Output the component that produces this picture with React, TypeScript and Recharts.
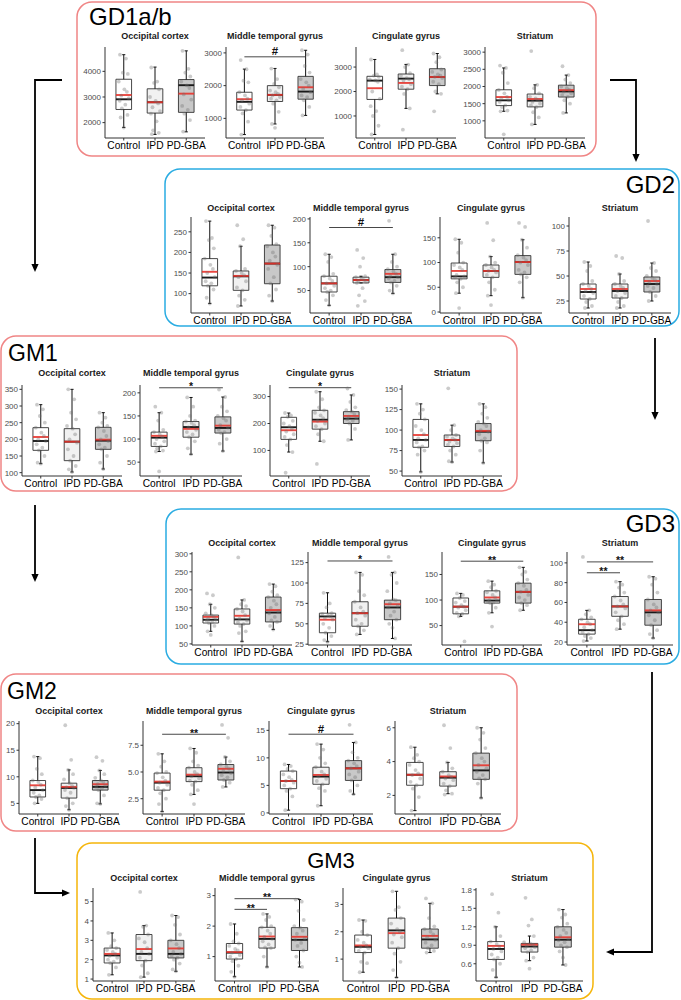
import React from 'react';
import { ComposedChart, XAxis, YAxis, Scatter, ReferenceArea, ReferenceLine } from 'recharts';

const GROUPS = ['Control', 'IPD', 'PD-GBA'];
const REGIONS = ['Occipital cortex', 'Middle temporal gyrus', 'Cingulate gyrus', 'Striatum'];
const PANEL_NAMES = ['GD1a/b', 'GD2', 'GM1', 'GD3', 'GM2', 'GM3'];

// stats per group: [whiskerLow, q1, median, q3, whiskerHigh, mean]
// ---------- GD1a/b ----------
const gd1OccStats = [[1810, 2513, 2910, 3692, 4650, 3077], [1540, 2372, 2795, 3320, 4167, 2795], [1640, 2400, 3460, 3680, 4800, 3130]];
const gd1OccPts = [
  [4650, 4500, 3950, 3900, 3600, 3300, 3200, 3050, 2950, 2850, 2700, 2550, 2300, 2200, 1810],
  [4150, 3600, 3550, 3300, 3000, 2850, 2750, 2600, 2450, 2350, 2050, 1700, 1600, 1550],
  [4800, 4100, 3950, 3800, 3600, 3450, 3350, 3100, 2900, 2650, 2500, 2350, 2100, 1650],
];
const gd1OccDomain = [1400, 4950];
const gd1OccTicks = [2000, 3000, 4000];

const gd1MtgStats = [[505, 1253, 1505, 1798, 2505, 1586], [828, 1515, 1717, 2000, 2525, 1717], [1090, 1586, 1818, 2283, 3080, 1950]];
const gd1MtgPts = [
  [2780, 2500, 2150, 2100, 1800, 1700, 1600, 1550, 1450, 1350, 1250, 1150, 900, 505],
  [2520, 2200, 2050, 1950, 1850, 1800, 1750, 1700, 1650, 1600, 1550, 1450, 1200, 830, 710],
  [3080, 2950, 2600, 2400, 2200, 2100, 2000, 1900, 1800, 1700, 1650, 1550, 1350, 1090],
];
const gd1MtgDomain = [400, 3180];
const gd1MtgTicks = [1000, 2000, 3000];
const gd1MtgSig = [[1, 3, 2880, '#']];

const gd1CingStats = [[243, 1676, 2446, 2622, 3310, 2135], [1310, 2095, 2527, 2716, 3108, 2351], [1905, 2243, 2595, 2932, 3554, 2595]];
const gd1CingPts = [
  [3310, 2700, 2650, 2600, 2500, 2450, 2400, 2000, 1700, 1400, 1200, 1000, 600, 243],
  [3690, 3100, 3000, 2750, 2650, 2550, 2500, 2450, 2300, 2200, 2100, 1900, 1310, 440],
  [3554, 3400, 3200, 2900, 2800, 2700, 2650, 2600, 2550, 2400, 2300, 2000, 1905, 1190],
];
const gd1CingDomain = [100, 3820];
const gd1CingTicks = [1000, 2000, 3000];

const gd1StrStats = [[1278, 1444, 1597, 1904, 2540, 1693], [895, 1406, 1588, 1780, 2048, 1636], [1230, 1693, 1856, 2038, 2332, 1894]];
const gd1StrPts = [
  [2610, 2540, 2400, 2100, 1900, 1800, 1700, 1650, 1600, 1550, 1450, 1400, 1300, 1278, 607],
  [3030, 2048, 1950, 1800, 1700, 1650, 1600, 1550, 1500, 1450, 1400, 1250, 1100, 895],
  [2590, 2332, 2200, 2100, 2000, 1950, 1900, 1850, 1800, 1750, 1700, 1600, 1500, 1230],
];
const gd1StrDomain = [500, 3150];
const gd1StrTicks = [1000, 1500, 2000, 2500, 3000];

// ---------- GD2 ----------
const gd2OccStats = [[76, 119, 139, 185, 276, 153], [70, 108, 142, 155, 215, 143], [82, 124, 173, 218, 266, 173]];
const gd2OccPts = [
  [276, 235, 230, 210, 185, 170, 160, 150, 140, 130, 125, 119, 110, 90, 76],
  [266, 232, 215, 160, 155, 150, 145, 140, 130, 115, 108, 95, 85, 70],
  [266, 260, 240, 220, 215, 200, 190, 180, 170, 160, 140, 125, 110, 95, 82],
];
const gd2OccDomain = [53, 286];
const gd2OccTicks = [100, 150, 200, 250];

const gd2MtgStats = [[19, 47, 65, 80, 126, 65], [66, 66, 72, 78, 80, 72], [44, 67, 78, 94, 126, 85]];
const gd2MtgPts = [
  [126, 120, 110, 85, 80, 75, 70, 65, 60, 55, 50, 47, 40, 30, 19],
  [135, 118, 100, 80, 78, 75, 72, 70, 68, 66, 55, 40, 28, 18],
  [196, 126, 110, 100, 95, 90, 85, 80, 78, 75, 70, 67, 60, 50, 44],
];
const gd2MtgDomain = [3, 204];
const gd2MtgTicks = [50, 100, 150, 200];
const gd2MtgSig = [[1, 3, 182, '#']];

const gd2CingStats = [[38, 67, 72, 99, 147, 83], [33, 70, 83, 95, 112, 83], [29, 76, 101, 114, 146, 101]];
const gd2CingPts = [
  [147, 140, 120, 100, 95, 90, 85, 75, 72, 70, 67, 60, 50, 38, 8],
  [180, 145, 112, 100, 95, 90, 85, 83, 80, 75, 70, 60, 45, 33, 14],
  [180, 172, 146, 130, 115, 110, 105, 100, 95, 85, 80, 76, 70, 60, 29],
];
const gd2CingDomain = [-2, 192];
const gd2CingTicks = [0, 50, 100, 150];

const gd2StrStats = [[18, 27, 34, 42, 64, 37], [18, 28, 35, 42, 52, 37], [25, 34, 42, 49, 63, 45]];
const gd2StrPts = [
  [64, 60, 55, 45, 42, 40, 37, 35, 33, 30, 27, 24, 20, 18],
  [70, 68, 52, 45, 42, 40, 38, 35, 33, 30, 28, 24, 20, 18],
  [105, 63, 58, 55, 50, 48, 46, 44, 42, 40, 38, 34, 30, 25],
];
const gd2StrDomain = [13, 109];
const gd2StrTicks = [25, 50, 75, 100];

// ---------- GM1 ----------
const gm1OccStats = [[127, 167, 195, 235, 304, 207], [102, 136, 193, 232, 350, 193], [111, 170, 196, 236, 280, 199]];
const gm1OccPts = [
  [304, 290, 270, 250, 235, 220, 210, 200, 195, 185, 175, 167, 150, 130, 127],
  [350, 320, 280, 260, 240, 232, 215, 200, 190, 170, 150, 136, 120, 110, 102],
  [280, 265, 250, 240, 236, 225, 210, 200, 195, 185, 175, 170, 150, 130, 111],
];
const gm1OccDomain = [90, 363];
const gm1OccTicks = [100, 150, 200, 250, 300, 350];

const gm1MtgStats = [[73, 84, 103, 115, 157, 107], [67, 104, 126, 138, 190, 122], [74, 113, 124, 148, 191, 129]];
const gm1MtgPts = [
  [170, 157, 140, 120, 115, 110, 105, 100, 95, 90, 84, 80, 75, 73, 30],
  [190, 170, 150, 140, 138, 135, 130, 125, 120, 115, 110, 104, 95, 80, 67],
  [207, 191, 170, 160, 150, 145, 140, 130, 125, 120, 115, 113, 100, 90, 74],
];
const gm1MtgDomain = [20, 217];
const gm1MtgTicks = [50, 100, 150, 200];
const gm1MtgSig = [[1, 3, 211, '*']];

const gm1CingStats = [[94, 141, 186, 223, 239, 175], [134, 179, 214, 249, 318, 207], [139, 200, 218, 244, 306, 228]];
const gm1CingPts = [
  [239, 230, 225, 210, 200, 190, 180, 170, 160, 150, 141, 120, 94, 17],
  [318, 290, 260, 249, 240, 230, 220, 210, 200, 190, 179, 160, 134, 50],
  [330, 306, 280, 260, 250, 244, 235, 225, 220, 215, 210, 200, 180, 139],
];
const gm1CingDomain = [5, 343];
const gm1CingTicks = [100, 200, 300];
const gm1CingSig = [[1, 3, 333, '*']];

const gm1StrStats = [[49, 79, 88, 113, 132, 94], [61, 80, 88, 94, 106, 88], [60, 87, 98, 108, 132, 99]];
const gm1StrPts = [
  [132, 125, 120, 113, 105, 100, 95, 90, 88, 85, 80, 79, 75, 70, 49],
  [151, 106, 100, 94, 92, 90, 88, 86, 84, 82, 80, 75, 70, 62, 61],
  [132, 128, 120, 115, 110, 108, 105, 100, 98, 95, 90, 87, 85, 75, 60],
];
const gm1StrDomain = [44, 155];
const gm1StrTicks = [50, 75, 100, 125, 150];

// ---------- GD3 ----------
const gd3OccStats = [[85, 108, 117, 130, 160, 125], [57, 105, 118, 147, 172, 128], [90, 111, 137, 180, 216, 144]];
const gd3OccPts = [
  [190, 185, 160, 150, 135, 130, 125, 120, 117, 115, 110, 108, 100, 85, 75],
  [290, 172, 160, 155, 147, 140, 130, 120, 115, 110, 105, 100, 85, 80, 57],
  [216, 210, 195, 185, 180, 170, 160, 150, 140, 135, 125, 115, 111, 100, 90],
];
const gd3OccDomain = [47, 305];
const gd3OccTicks = [50, 100, 150, 200, 250, 300];

const gd3MtgStats = [[28, 39, 59, 63, 88, 55], [37, 47, 63, 77, 113, 63], [32, 55, 70, 79, 113, 74]];
const gd3MtgPts = [
  [88, 75, 70, 63, 62, 60, 59, 57, 55, 50, 45, 39, 35, 30, 28],
  [113, 110, 90, 85, 77, 70, 65, 63, 60, 55, 50, 47, 42, 37],
  [132, 113, 110, 100, 90, 80, 79, 75, 72, 70, 65, 60, 55, 50, 45, 32],
];
const gd3MtgDomain = [24, 138];
const gd3MtgTicks = [25, 50, 75, 100, 125];
const gd3MtgSig = [[1, 3, 127, '*']];

const gd3CingStats = [[68, 73, 87, 104, 113, 87], [75, 94, 99, 118, 137, 105], [80, 94, 116, 133, 164, 116]];
const gd3CingPts = [
  [113, 110, 104, 98, 95, 90, 87, 85, 80, 75, 73, 68, 19],
  [137, 130, 125, 118, 115, 110, 105, 100, 99, 97, 95, 94, 85, 75, 48],
  [164, 155, 150, 140, 133, 128, 120, 116, 110, 105, 100, 94, 90, 80],
];
const gd3CingDomain = [12, 194];
const gd3CingTicks = [50, 100, 150];
const gd3CingSig = [[1, 3, 176, '**']];

const gd3StrStats = [[21, 28, 32, 43, 52, 38], [33, 46, 56, 66, 81, 56], [24, 37, 50, 63, 86, 52]];
const gd3StrPts = [
  [106, 52, 48, 45, 43, 40, 38, 35, 32, 30, 28, 26, 24, 21],
  [81, 78, 75, 70, 66, 62, 58, 56, 54, 50, 46, 42, 38, 33],
  [86, 84, 78, 70, 63, 58, 55, 52, 50, 47, 42, 37, 32, 28, 24],
];
const gd3StrDomain = [17, 111];
const gd3StrTicks = [20, 40, 60, 80, 100];
const gd3StrSig = [[1, 3, 101, '**'], [1, 2, 90, '**']];

// ---------- GM2 ----------
const gm2OccStats = [[5, 6.2, 7.5, 9.3, 13.8, 8.4], [3.8, 6.0, 7.9, 8.8, 11.3, 8.1], [4.9, 7.5, 8.1, 9.3, 11.2, 8.6]];
const gm2OccPts = [
  [13.8, 13.5, 11.5, 10.5, 9.3, 9.0, 8.5, 8.0, 7.5, 7.0, 6.5, 6.2, 5.8, 5.0],
  [19.7, 13.2, 11.3, 10.5, 9.5, 8.8, 8.3, 8.0, 7.9, 7.5, 7.0, 6.0, 5.0, 4.5, 3.8],
  [13.7, 13.0, 11.2, 10.5, 9.8, 9.3, 9.0, 8.6, 8.3, 8.1, 7.8, 7.5, 6.5, 5.0, 4.9],
];
const gm2OccDomain = [3, 20.5];
const gm2OccTicks = [5, 10, 15, 20];

const gm2MtgStats = [[1.3, 3.3, 4.0, 4.9, 6.7, 4.1], [2.9, 4.1, 4.6, 5.4, 7.2, 4.75], [3.6, 4.25, 4.95, 5.7, 6.4, 5.3]];
const gm2MtgPts = [
  [6.7, 6.0, 5.5, 5.0, 4.9, 4.5, 4.2, 4.0, 3.8, 3.5, 3.3, 3.0, 2.5, 2.0, 1.3],
  [7.2, 6.8, 6.0, 5.6, 5.4, 5.0, 4.8, 4.6, 4.4, 4.2, 4.1, 3.8, 3.3, 2.9, 2.0],
  [9.4, 8.2, 6.4, 6.0, 5.7, 5.5, 5.3, 5.1, 4.9, 4.7, 4.5, 4.25, 4.0, 3.6],
];
const gm2MtgDomain = [1.07, 9.77];
const gm2MtgTicks = [2.5, 5, 7.5];
const gm2MtgSig = [[1, 3, 8.53, '**']];

const gm2CingStats = [[0.5, 4.4, 5.8, 7.6, 8.8, 5.8], [1.3, 5.2, 6.6, 8.3, 12.5, 6.9], [3.4, 5.9, 8.1, 9.5, 12.8, 8.1]];
const gm2CingPts = [
  [8.8, 8.5, 8.0, 7.6, 7.0, 6.5, 6.0, 5.8, 5.5, 5.0, 4.4, 4.0, 3.0, 0.5],
  [12.5, 11.5, 10.0, 9.0, 8.3, 7.5, 7.0, 6.6, 6.2, 5.8, 5.2, 4.5, 4.0, 1.3],
  [16.0, 12.8, 11.0, 10.0, 9.5, 9.0, 8.5, 8.1, 7.5, 7.0, 6.5, 5.9, 5.0, 4.0, 3.4],
];
const gm2CingDomain = [-0.2, 16.7];
const gm2CingTicks = [0, 5, 10, 15];
const gm2CingSig = [[1, 3, 14.3, '#']];

const gm2StrStats = [[1.1, 2.6, 3.22, 3.95, 4.85, 3.22], [2.1, 2.55, 3.05, 3.4, 3.95, 3.12], [1.85, 2.95, 3.48, 4.5, 6.0, 3.78]];
const gm2StrPts = [
  [4.85, 4.4, 4.2, 4.0, 3.8, 3.5, 3.3, 3.2, 3.0, 2.8, 2.6, 2.4, 1.9, 1.1],
  [6.15, 4.8, 3.95, 3.6, 3.4, 3.2, 3.1, 3.0, 2.9, 2.7, 2.55, 2.3, 2.1, 2.05],
  [6.0, 5.7, 5.3, 4.8, 4.5, 4.2, 4.0, 3.8, 3.6, 3.4, 3.2, 3.0, 2.95, 2.7, 1.85],
];
const gm2StrDomain = [0.9, 6.4];
const gm2StrTicks = [2, 4, 6];

// ---------- GM3 ----------
const gm3OccStats = [[1.22, 1.83, 2.22, 2.6, 3.38, 2.3], [1.1, 1.95, 2.3, 3.3, 3.76, 2.55], [1.4, 2.09, 2.3, 3.0, 4.28, 2.58]];
const gm3OccPts = [
  [3.38, 3.0, 2.7, 2.6, 2.5, 2.4, 2.3, 2.2, 2.1, 2.0, 1.9, 1.83, 1.6, 1.22],
  [5.5, 3.76, 3.7, 3.3, 3.1, 2.9, 2.6, 2.4, 2.3, 2.1, 1.95, 1.7, 1.3, 1.1],
  [4.28, 4.2, 3.8, 3.3, 3.0, 2.8, 2.6, 2.4, 2.3, 2.2, 2.1, 2.0, 1.8, 1.5, 1.4],
];
const gm3OccDomain = [0.9, 5.7];
const gm3OccTicks = [1, 2, 3, 4, 5];

const gm3MtgStats = [[0.34, 0.92, 1.13, 1.43, 2.07, 1.15], [0.66, 1.28, 1.58, 1.96, 2.4, 1.66], [0.66, 1.2, 1.55, 1.95, 2.87, 1.65]];
const gm3MtgPts = [
  [2.07, 1.75, 1.5, 1.43, 1.35, 1.25, 1.2, 1.13, 1.05, 1.0, 0.92, 0.85, 0.7, 0.5, 0.34],
  [2.4, 2.3, 2.2, 2.0, 1.96, 1.85, 1.75, 1.65, 1.58, 1.5, 1.4, 1.3, 1.28, 1.0, 0.66],
  [2.87, 2.8, 2.5, 2.2, 2.0, 1.95, 1.85, 1.75, 1.6, 1.55, 1.45, 1.35, 1.2, 1.0, 0.8, 0.66],
];
const gm3MtgDomain = [0.2, 3.25];
const gm3MtgTicks = [1, 2, 3];
const gm3MtgSig = [[1, 3, 2.9, '**'], [1, 2, 2.55, '**']];

const gm3CingStats = [[0.52, 1.24, 1.45, 1.88, 2.43, 1.5], [0.33, 1.4, 2.05, 2.5, 3.48, 1.95], [1.24, 1.4, 1.72, 2.1, 3.04, 1.85]];
const gm3CingPts = [
  [2.43, 2.4, 2.0, 1.88, 1.7, 1.6, 1.5, 1.45, 1.4, 1.3, 1.24, 0.9, 0.85, 0.52],
  [3.48, 2.9, 2.8, 2.5, 2.3, 2.1, 2.0, 1.9, 1.8, 1.6, 1.4, 1.2, 0.9, 0.6, 0.33],
  [3.22, 3.04, 2.5, 2.2, 2.1, 2.0, 1.9, 1.8, 1.7, 1.6, 1.5, 1.4, 1.3, 1.24],
];
const gm3CingDomain = [0.2, 3.6];
const gm3CingTicks = [1, 2, 3];

const gm3StrStats = [[0.38, 0.67, 0.84, 0.96, 1.2, 0.89], [0.65, 0.79, 0.88, 0.93, 1.05, 0.91], [0.58, 0.87, 0.99, 1.2, 1.48, 1.03]];
const gm3StrPts = [
  [1.73, 1.43, 1.2, 1.05, 0.96, 0.92, 0.88, 0.84, 0.8, 0.75, 0.7, 0.67, 0.6, 0.5, 0.38],
  [1.67, 1.32, 1.22, 1.05, 0.95, 0.93, 0.91, 0.89, 0.87, 0.85, 0.82, 0.79, 0.7, 0.65, 0.52],
  [1.48, 1.4, 1.35, 1.25, 1.2, 1.15, 1.1, 1.05, 1.0, 0.98, 0.95, 0.9, 0.87, 0.8, 0.7, 0.58],
];
const gm3StrDomain = [0.32, 1.83];
const gm3StrTicks = [0.6, 0.9, 1.2, 1.5, 1.8];

// ---------- assembly ----------
const mk = (stats, pts, domain, ticks, dec, sig) => ({ stats, pts, domain, ticks, dec, sig });
const SPECS = [
  [mk(gd1OccStats, gd1OccPts, gd1OccDomain, gd1OccTicks, 0, []), mk(gd1MtgStats, gd1MtgPts, gd1MtgDomain, gd1MtgTicks, 0, gd1MtgSig), mk(gd1CingStats, gd1CingPts, gd1CingDomain, gd1CingTicks, 0, []), mk(gd1StrStats, gd1StrPts, gd1StrDomain, gd1StrTicks, 0, [])],
  [mk(gd2OccStats, gd2OccPts, gd2OccDomain, gd2OccTicks, 0, []), mk(gd2MtgStats, gd2MtgPts, gd2MtgDomain, gd2MtgTicks, 0, gd2MtgSig), mk(gd2CingStats, gd2CingPts, gd2CingDomain, gd2CingTicks, 0, []), mk(gd2StrStats, gd2StrPts, gd2StrDomain, gd2StrTicks, 0, [])],
  [mk(gm1OccStats, gm1OccPts, gm1OccDomain, gm1OccTicks, 0, []), mk(gm1MtgStats, gm1MtgPts, gm1MtgDomain, gm1MtgTicks, 0, gm1MtgSig), mk(gm1CingStats, gm1CingPts, gm1CingDomain, gm1CingTicks, 0, gm1CingSig), mk(gm1StrStats, gm1StrPts, gm1StrDomain, gm1StrTicks, 0, [])],
  [mk(gd3OccStats, gd3OccPts, gd3OccDomain, gd3OccTicks, 0, []), mk(gd3MtgStats, gd3MtgPts, gd3MtgDomain, gd3MtgTicks, 0, gd3MtgSig), mk(gd3CingStats, gd3CingPts, gd3CingDomain, gd3CingTicks, 0, gd3CingSig), mk(gd3StrStats, gd3StrPts, gd3StrDomain, gd3StrTicks, 0, gd3StrSig)],
  [mk(gm2OccStats, gm2OccPts, gm2OccDomain, gm2OccTicks, 0, []), mk(gm2MtgStats, gm2MtgPts, gm2MtgDomain, gm2MtgTicks, 1, gm2MtgSig), mk(gm2CingStats, gm2CingPts, gm2CingDomain, gm2CingTicks, 0, gm2CingSig), mk(gm2StrStats, gm2StrPts, gm2StrDomain, gm2StrTicks, 0, [])],
  [mk(gm3OccStats, gm3OccPts, gm3OccDomain, gm3OccTicks, 0, []), mk(gm3MtgStats, gm3MtgPts, gm3MtgDomain, gm3MtgTicks, 0, gm3MtgSig), mk(gm3CingStats, gm3CingPts, gm3CingDomain, gm3CingTicks, 0, []), mk(gm3StrStats, gm3StrPts, gm3StrDomain, gm3StrTicks, 1, [])],
];

// ---------- layout / style ----------
const FONT = '"Liberation Sans", Arial, Helvetica, sans-serif';
const JITTER = [-0.12, 0.07, -0.03, 0.13, -0.16, 0.02, 0.1, -0.08, 0.16, -0.13, 0.05, -0.06, 0.12, -0.1, 0.0, 0.08];
const BOX_FILL = ['#ffffff', '#f1f1f1', '#c8c8c8'];
const RED = '#e8332b';
const PINK = '#f08585';
const BLUE = '#2aace2';
const GOLD = '#f5b50a';

const PANEL_BOXES = [
  { x: 77, y: 2, w: 519, h: 154, color: PINK, lx: 89, ly: 25, anchor: 'start', fs: 24 },
  { x: 165, y: 169, w: 514, h: 157, color: BLUE, lx: 675, ly: 193, anchor: 'end', fs: 24 },
  { x: 1, y: 336, w: 516, h: 155, color: PINK, lx: 8, ly: 361, anchor: 'start', fs: 23 },
  { x: 166, y: 509, w: 513, h: 155, color: BLUE, lx: 675, ly: 532, anchor: 'end', fs: 24 },
  { x: 1, y: 674, w: 516, h: 157, color: PINK, lx: 7, ly: 699, anchor: 'start', fs: 23 },
  { x: 77, y: 843, w: 516, h: 156, color: GOLD, lx: 331, ly: 868, anchor: 'middle', fs: 22 },
];

const SUB_LAYOUT = [
  { axisX: [105, 226, 356, 485], plotW: [100, 98, 100, 100], top: 47, bottom: 138, titleY: 36 },
  { axisX: [191, 310, 440, 569], plotW: [100, 102, 102, 102], top: 217, bottom: 313, titleY: 208 },
  { axisX: [22, 140, 270, 402], plotW: [100, 102, 100, 100], top: 385, bottom: 476, titleY: 373 },
  { axisX: [192, 308, 442, 567], plotW: [100, 104, 100, 106], top: 552, bottom: 645, titleY: 543 },
  { axisX: [19, 143, 269, 395], plotW: [100, 102, 104, 106], top: 721, bottom: 814, titleY: 711 },
  { axisX: [93, 215, 343, 476], plotW: [102, 104, 107, 107], top: 888, bottom: 981, titleY: 878 },
];

const ARROWS = [
  { d: 'M62 80 H35 V264', tip: [35, 272], dir: 'down' },
  { d: 'M610 80 H636 V154', tip: [636, 162], dir: 'down' },
  { d: 'M655 338 V412', tip: [655, 420], dir: 'down' },
  { d: 'M35 505 V574', tip: [35, 582], dir: 'down' },
  { d: 'M652 672 V952 H614', tip: [606, 952], dir: 'left' },
  { d: 'M35 838 V893 H62', tip: [70, 893], dir: 'right' },
];

const YW = 30;
const XH = 18;
const MT = 14;

function Dot(props: any) {
  const { cx, cy } = props;
  if (cx == null || cy == null) return null;
  return <circle cx={cx} cy={cy} r={1.9} fill="#6e6e6e" fillOpacity={0.36} />;
}

function BoxChart({ spec, axisX, plotW, top, bottom }: any) {
  const plotH = bottom - top;
  const pts: any[] = [];
  spec.pts.forEach((arr: number[], gi: number) =>
    arr.forEach((v, i) => pts.push({ x: gi + 1 + JITTER[i % JITTER.length], y: v }))
  );
  const els: any[] = [];
  spec.stats.forEach((s: number[], gi: number) => {
    const g = gi + 1;
    const [lo, q1, med, q3, hi] = s;
    els.push(<ReferenceLine key={'wl' + g} segment={[{ x: g, y: lo }, { x: g, y: q1 }]} stroke="#111" strokeWidth={1} ifOverflow="visible" />);
    els.push(<ReferenceLine key={'wh' + g} segment={[{ x: g, y: q3 }, { x: g, y: hi }]} stroke="#111" strokeWidth={1} ifOverflow="visible" />);
    els.push(<ReferenceLine key={'cl' + g} segment={[{ x: g - 0.05, y: lo }, { x: g + 0.05, y: lo }]} stroke="#111" strokeWidth={1} ifOverflow="visible" />);
    els.push(<ReferenceLine key={'ch' + g} segment={[{ x: g - 0.05, y: hi }, { x: g + 0.05, y: hi }]} stroke="#111" strokeWidth={1} ifOverflow="visible" />);
    els.push(<ReferenceArea key={'bx' + g} x1={g - 0.25} x2={g + 0.25} y1={q1} y2={q3} fill={BOX_FILL[gi]} fillOpacity={1} stroke="#333" strokeWidth={0.9} ifOverflow="visible" />);
    els.push(<ReferenceLine key={'md' + g} segment={[{ x: g - 0.25, y: med }, { x: g + 0.25, y: med }]} stroke="#1a1a1a" strokeWidth={1.9} ifOverflow="visible" />);
  });
  const means = spec.stats.map((s: number[], gi: number) => (
    <ReferenceLine key={'mn' + gi} segment={[{ x: gi + 0.75, y: s[5] }, { x: gi + 1.25, y: s[5] }]} stroke={RED} strokeOpacity={0.9} strokeWidth={1.9} ifOverflow="visible" />
  ));
  const sigs = spec.sig.map((sg: any, k: number) => {
    const isHash = sg[3] === '#';
    return (
      <ReferenceLine
        key={'sg' + k}
        segment={[{ x: sg[0], y: sg[2] }, { x: sg[1], y: sg[2] }]}
        stroke="#333"
        strokeWidth={0.9}
        ifOverflow="visible"
        label={{ value: sg[3], position: 'top', offset: isHash ? 1.5 : -2.5, fontSize: isHash ? 11.5 : 10.5, fill: '#111', fontFamily: FONT, fontWeight: 'bold' }}
      />
    );
  });
  return (
    <div style={{ position: 'absolute', left: axisX - YW, top: top - MT }}>
      <ComposedChart width={YW + plotW + 2} height={plotH + XH + MT} margin={{ top: MT, right: 2, bottom: 0, left: 0 }}>
        <XAxis
          type="number"
          dataKey="x"
          domain={[0.4, 3.6]}
          ticks={[1, 2, 3]}
          interval={0}
          allowDataOverflow
          tickFormatter={(v: number) => GROUPS[Math.round(v) - 1]}
          height={XH}
          tickSize={2.5}
          tickMargin={1}
          tick={{ fontSize: 10.2, fill: '#000', fontFamily: FONT }}
          axisLine={{ stroke: '#333', strokeWidth: 1 }}
          tickLine={{ stroke: '#333' }}
        />
        <YAxis
          type="number"
          dataKey="y"
          domain={spec.domain}
          ticks={spec.ticks}
          interval={0}
          allowDataOverflow
          width={YW}
          tickSize={2.5}
          tickMargin={1.5}
          tickFormatter={(v: number) => v.toFixed(spec.dec)}
          tick={{ fontSize: 8, fill: '#4d4d4d', fontFamily: FONT }}
          axisLine={{ stroke: '#333', strokeWidth: 1 }}
          tickLine={{ stroke: '#333' }}
        />
        {els}
        <Scatter data={pts} shape={<Dot />} isAnimationActive={false} />
        {means}
        {sigs}
      </ComposedChart>
    </div>
  );
}

function arrowHead(tip: number[], dir: string) {
  const [x, y] = tip;
  const L = 8, W = 3.6;
  if (dir === 'down') return `${x},${y} ${x - W},${y - L} ${x + W},${y - L}`;
  if (dir === 'left') return `${x},${y} ${x + L},${y - W} ${x + L},${y + W}`;
  return `${x},${y} ${x - L},${y - W} ${x - L},${y + W}`;
}

export default function App() {
  return (
    <div style={{ position: 'absolute', left: 0, top: 0, width: 681, height: 1000, background: '#fff', fontFamily: FONT }}>
      <svg width={681} height={1000} style={{ position: 'absolute', left: 0, top: 0 }}>
        {PANEL_BOXES.map((p, i) => (
          <g key={i}>
            <rect x={p.x} y={p.y} width={p.w} height={p.h} rx={15} ry={15} fill="none" stroke={p.color} strokeWidth={1.5} />
            <text x={p.lx} y={p.ly} fontSize={p.fs} textAnchor={p.anchor as any} fill="#000" fontFamily={FONT}>{PANEL_NAMES[i]}</text>
          </g>
        ))}
        {SUB_LAYOUT.map((L, pi) =>
          REGIONS.map((r, ri) => (
            <text key={pi + '-' + ri} x={L.axisX[ri] + L.plotW[ri] / 2} y={L.titleY + 3.2} fontSize={9} fontWeight="bold" textAnchor="middle" fill="#1a1a1a" fontFamily={FONT}>{r}</text>
          ))
        )}
        {ARROWS.map((a, i) => (
          <g key={i}>
            <path d={a.d} fill="none" stroke="#000" strokeWidth={1.8} />
            <polygon points={arrowHead(a.tip, a.dir)} fill="#000" />
          </g>
        ))}
      </svg>
      {SUB_LAYOUT.map((L, pi) =>
        REGIONS.map((r, ri) => (
          <BoxChart key={pi + '-' + ri} spec={SPECS[pi][ri]} axisX={L.axisX[ri]} plotW={L.plotW[ri]} top={L.top} bottom={L.bottom} />
        ))
      )}
    </div>
  );
}
